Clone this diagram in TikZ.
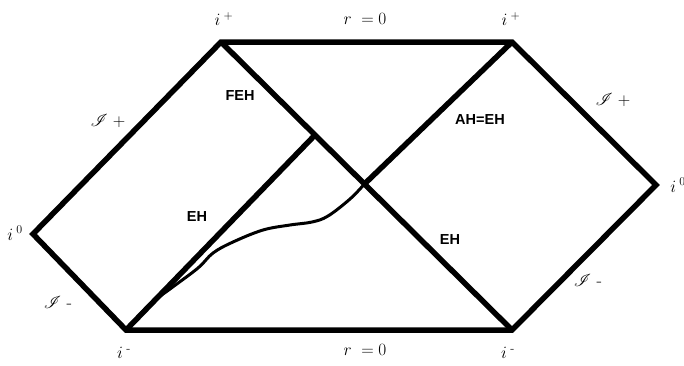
\documentclass[tikz,border=0pt]{standalone}
\usepackage{amsmath,mathrsfs}
\usepackage{fontspec}
\newfontfamily\lblfont{Liberation Sans}
\usetikzlibrary{calc}
\tikzset{
  edge/.style={line width=5.5pt,line join=miter},
  horizon/.style={font=\lblfont\bfseries\fontsize{14.5}{16}\selectfont},
  lbl/.style={font=\fontsize{18}{20}\selectfont,inner sep=0pt}
}

\begin{document}
\begin{tikzpicture}[x=1pt,y=-1pt]
\useasboundingbox (0,0) rectangle (684,365);
% corners of the diagram
\coordinate (ipl) at (221,42);
\coordinate (ipr) at (512,42);
\coordinate (iol) at (33,234);
\coordinate (ior) at (656,185);
\coordinate (iml) at (126,330);
\coordinate (imr) at (512,330);
\coordinate (feh) at (315,135);
\coordinate (x) at ($(ipl)!0.493!(imr)$);
% boundary and horizons
\draw[edge] (ipl) -- (ipr) -- (ior) -- (imr) -- (iml) -- (iol) -- cycle;
\draw[edge] (ipl) -- (imr);
\draw[edge] (iml) -- (feh);
\draw[edge] (ipr) -- (x);
\draw[line width=3pt] plot[smooth,tension=0.6] coordinates {(x) (350,199) (328,216) (312,222) (290,225) (263,230) (233,242) (213,253) (198,268) (170,289) (150,304) (130,326)};
% labels
\node[lbl] (lipl) at (224,19) {$i^{\;+}$};
\node[lbl] (lipr) at (511,19) {$i^{\;+}$};
\node[lbl] (liol) at (15,233) {$i^{\;0}$};
\node[lbl] (lior) at (678,185) {$i^{\;0}$};
\node[lbl] (liml) at (124,353) {$i^{\;\text{-}}$};
\node[lbl] (limr) at (508,353) {$i^{\;\text{-}}$};
\node[lbl] (rtop) at (365,19) {$r\;=0$};
\node[lbl] (rbot) at (365,350) {$r\;=0$};
\node[lbl] (scrl) at (108,121) {$\mathscr{I}\;+$};
\node[lbl] (scrr) at (613,100) {$\mathscr{I}\;+$};
\node[lbl] (scml) at (58,302) {$\mathscr{I}$\ \text{-}};
\node[lbl] (scmr) at (588,280) {$\mathscr{I}$\ \text{-}};
\node[horizon] (lfeh) at (240,96) {FEH};
\node[horizon] (leh) at (197,217) {EH};
\node[horizon] (lah) at (480,120) {AH=EH};
\node[horizon] (leh2) at (450,240) {EH};
\end{tikzpicture}
\end{document}
